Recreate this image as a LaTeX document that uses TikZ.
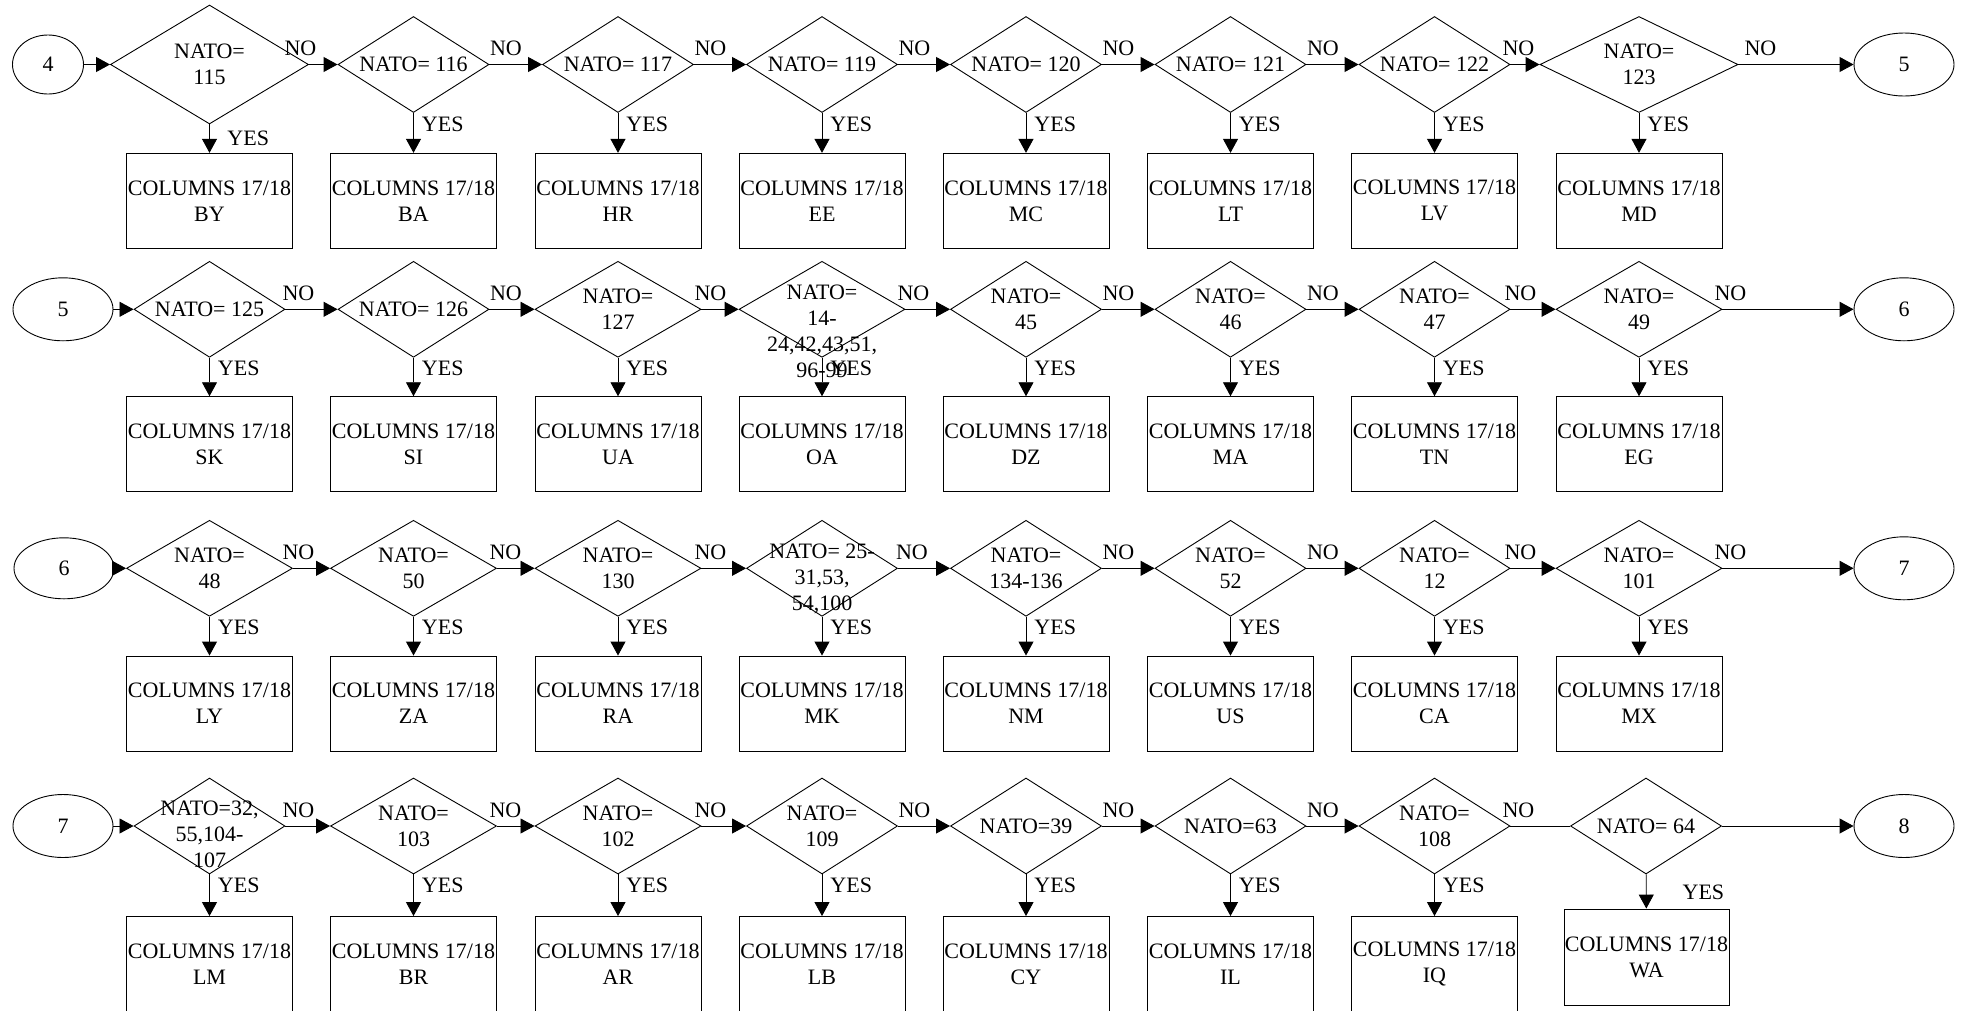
\documentclass[tikz,border=0pt]{standalone}
\usepackage{fontspec}
\setmainfont{Liberation Serif}
\usetikzlibrary{shapes.geometric,arrows.meta}

\tikzset{
  dec/.style={diamond,draw,inner sep=0pt,minimum width=151pt,minimum height=96pt},
  dwide/.style={minimum width=166pt},
  nato/.style={label={[align=center]center:#1}},
  res/.style={draw,rectangle,align=center,inner sep=0pt,minimum width=166pt,minimum height=95pt},
  term/.style={ellipse,draw,inner sep=0pt,minimum width=100pt,minimum height=63pt},
  no/.style={at start,anchor=south,inner sep=0pt,yshift=8pt,xshift=#1},
  no/.default=16.5pt,
  yes/.style={at start,anchor=west,inner sep=0pt,xshift=8pt,yshift=-11pt}
}

\begin{document}
\begin{tikzpicture}[x=1pt,y=-1pt,>={Triangle[length=14pt,width=15pt]},line width=0.9pt,
  font=\fontsize{22}{26}\selectfont]
  \useasboundingbox[fill=white] (0,0) rectangle (1966,1010);

  % row 1
  \node[term,minimum width=71pt,minimum height=59pt] (e4) at (48,64.5) {4};
  \node[dec,minimum width=198pt,minimum height=119pt,nato={NATO=\\115}] (d11) at (209.5,64.5) {};
  \node[dec,nato={NATO= 116}] (d12) at (413.5,64.5) {};
  \node[dec,nato={NATO= 117}] (d13) at (618,64.5) {};
  \node[dec,nato={NATO= 119}] (d14) at (822,64.5) {};
  \node[dec,nato={NATO= 120}] (d15) at (1026,64.5) {};
  \node[dec,nato={NATO= 121}] (d16) at (1230.5,64.5) {};
  \node[dec,nato={NATO= 122}] (d17) at (1434.5,64.5) {};
  \node[dec,minimum width=198pt,nato={NATO=\\123}] (d18) at (1639,64.5) {};
  \node[term] (e5a) at (1904,64.5) {5};
  \node[res] (r11) at (209.5,200.8) {COLUMNS 17/18\\BY};
  \node[res] (r12) at (413.5,200.8) {COLUMNS 17/18\\BA};
  \node[res] (r13) at (618,200.8) {COLUMNS 17/18\\HR};
  \node[res] (r14) at (822,200.8) {COLUMNS 17/18\\EE};
  \node[res] (r15) at (1026,200.8) {COLUMNS 17/18\\MC};
  \node[res] (r16) at (1230.5,200.8) {COLUMNS 17/18\\LT};
  \node[res] (r17) at (1434.5,200.8) {COLUMNS 17/18\\LV};
  \node[res] (r18) at (1639,200.8) {COLUMNS 17/18\\MD};
  \draw[->] (e4) -- (d11);
  \draw[->] (d11) -- node[no=-8.5pt] {NO} (d12);
  \draw[->] (d12) -- node[no] {NO} (d13);
  \draw[->] (d13) -- node[no] {NO} (d14);
  \draw[->] (d14) -- node[no] {NO} (d15);
  \draw[->] (d15) -- node[no] {NO} (d16);
  \draw[->] (d16) -- node[no] {NO} (d17);
  \draw[->] (d17) -- node[no=8pt] {NO} (d18);
  \draw[->] (d18) -- node[no=22pt] {NO} (e5a);
  \draw[->] (d11) -- node[yes,xshift=9.5pt,yshift=-3pt] {YES} (r11);
  \draw[->] (d12) -- node[yes] {YES} (r12);
  \draw[->] (d13) -- node[yes] {YES} (r13);
  \draw[->] (d14) -- node[yes] {YES} (r14);
  \draw[->] (d15) -- node[yes] {YES} (r15);
  \draw[->] (d16) -- node[yes] {YES} (r16);
  \draw[->] (d17) -- node[yes] {YES} (r17);
  \draw[->] (d18) -- node[yes] {YES} (r18);

  % row 2
  \node[term] (e5) at (63,309.3) {5};
  \node[dec,nato={NATO= 125}] (d21) at (209.5,309.3) {};
  \node[dec,nato={NATO= 126}] (d22) at (413.5,309.3) {};
  \node[dec,dwide,nato={NATO=\\127}] (d23) at (618,309.3) {};
  \node[dec,dwide,label={[align=center,yshift=-22pt]center:{NATO=\\14-\\24,42,43,51,\\96-99}}] (d24) at (822,309.3) {};
  \node[dec,nato={NATO=\\45}] (d25) at (1026,309.3) {};
  \node[dec,nato={NATO=\\46}] (d26) at (1230.5,309.3) {};
  \node[dec,nato={NATO=\\47}] (d27) at (1434.5,309.3) {};
  \node[dec,dwide,nato={NATO=\\49}] (d28) at (1639,309.3) {};
  \node[term] (e6a) at (1904,309.3) {6};
  \node[res] (r21) at (209.5,444.2) {COLUMNS 17/18\\SK};
  \node[res] (r22) at (413.5,444.2) {COLUMNS 17/18\\SI};
  \node[res] (r23) at (618,444.2) {COLUMNS 17/18\\UA};
  \node[res] (r24) at (822,444.2) {COLUMNS 17/18\\OA};
  \node[res] (r25) at (1026,444.2) {COLUMNS 17/18\\DZ};
  \node[res] (r26) at (1230.5,444.2) {COLUMNS 17/18\\MA};
  \node[res] (r27) at (1434.5,444.2) {COLUMNS 17/18\\TN};
  \node[res] (r28) at (1639,444.2) {COLUMNS 17/18\\EG};
  \draw[->] (e5) -- (d21);
  \draw[->] (d21) -- node[no=13pt] {NO} (d22);
  \draw[->] (d22) -- node[no] {NO} (d23);
  \draw[->] (d23) -- node[no=9pt] {NO} (d24);
  \draw[->] (d24) -- node[no=8pt] {NO} (d25);
  \draw[->] (d25) -- node[no] {NO} (d26);
  \draw[->] (d26) -- node[no] {NO} (d27);
  \draw[->] (d27) -- node[no=10pt] {NO} (d28);
  \draw[->] (d28) -- node[no=8pt] {NO} (e6a);
  \draw[->] (d21) -- node[yes] {YES} (r21);
  \draw[->] (d22) -- node[yes] {YES} (r22);
  \draw[->] (d23) -- node[yes] {YES} (r23);
  \draw[->] (d24) -- node[yes] {YES} (r24);
  \draw[->] (d25) -- node[yes] {YES} (r25);
  \draw[->] (d26) -- node[yes] {YES} (r26);
  \draw[->] (d27) -- node[yes] {YES} (r27);
  \draw[->] (d28) -- node[yes] {YES} (r28);

  % row 3
  \node[term,minimum height=61pt] (e6) at (64,568.3) {6};
  \node[dec,dwide,nato={NATO=\\48}] (d31) at (209.5,568.3) {};
  \node[dec,dwide,nato={NATO=\\50}] (d32) at (413.5,568.3) {};
  \node[dec,dwide,nato={NATO=\\130}] (d33) at (618,568.3) {};
  \node[dec,label={[align=center,yshift=-11pt]center:{NATO= 25-\\31,53,\\54,100}}] (d34) at (822,568.3) {};
  \node[dec,nato={NATO=\\134-136}] (d35) at (1026,568.3) {};
  \node[dec,nato={NATO=\\52}] (d36) at (1230.5,568.3) {};
  \node[dec,nato={NATO=\\12}] (d37) at (1434.5,568.3) {};
  \node[dec,dwide,nato={NATO=\\101}] (d38) at (1639,568.3) {};
  \node[term] (e7a) at (1904,568.3) {7};
  \node[res] (r31) at (209.5,703.5) {COLUMNS 17/18\\LY};
  \node[res] (r32) at (413.5,703.5) {COLUMNS 17/18\\ZA};
  \node[res] (r33) at (618,703.5) {COLUMNS 17/18\\RA};
  \node[res] (r34) at (822,703.5) {COLUMNS 17/18\\MK};
  \node[res] (r35) at (1026,703.5) {COLUMNS 17/18\\NM};
  \node[res] (r36) at (1230.5,703.5) {COLUMNS 17/18\\US};
  \node[res] (r37) at (1434.5,703.5) {COLUMNS 17/18\\CA};
  \node[res] (r38) at (1639,703.5) {COLUMNS 17/18\\MX};
  \draw[->] (e6) -- (d31);
  \draw[->] (d31) -- node[no=5.5pt] {NO} (d32);
  \draw[->] (d32) -- node[no=8.5pt] {NO} (d33);
  \draw[->] (d33) -- node[no=9pt] {NO} (d34);
  \draw[->] (d34) -- node[no=14pt] {NO} (d35);
  \draw[->] (d35) -- node[no] {NO} (d36);
  \draw[->] (d36) -- node[no] {NO} (d37);
  \draw[->] (d37) -- node[no=10pt] {NO} (d38);
  \draw[->] (d38) -- node[no=8pt] {NO} (e7a);
  \draw[->] (d31) -- node[yes] {YES} (r31);
  \draw[->] (d32) -- node[yes] {YES} (r32);
  \draw[->] (d33) -- node[yes] {YES} (r33);
  \draw[->] (d34) -- node[yes] {YES} (r34);
  \draw[->] (d35) -- node[yes] {YES} (r35);
  \draw[->] (d36) -- node[yes] {YES} (r36);
  \draw[->] (d37) -- node[yes] {YES} (r37);
  \draw[->] (d38) -- node[yes] {YES} (r38);

  % row 4
  \node[term] (e7) at (63,826) {7};
  \node[dec,label={[align=center,yshift=-8pt]center:{NATO=32,\\55,104-\\107}}] (d41) at (209.5,826) {};
  \node[dec,dwide,nato={NATO=\\103}] (d42) at (413.5,826) {};
  \node[dec,dwide,nato={NATO=\\102}] (d43) at (618,826) {};
  \node[dec,nato={NATO=\\109}] (d44) at (822,826) {};
  \node[dec,nato={NATO=39}] (d45) at (1026,826) {};
  \node[dec,nato={NATO=63}] (d46) at (1230.5,826) {};
  \node[dec,nato={NATO=\\108}] (d47) at (1434.5,826) {};
  \node[dec,nato={NATO= 64}] (d48) at (1646,826) {};
  \node[term] (e8) at (1904,826) {8};
  \node[res] (r41) at (209.5,964) {COLUMNS 17/18\\LM};
  \node[res] (r42) at (413.5,964) {COLUMNS 17/18\\BR};
  \node[res] (r43) at (618,964) {COLUMNS 17/18\\AR};
  \node[res] (r44) at (822,964) {COLUMNS 17/18\\LB};
  \node[res] (r45) at (1026,964) {COLUMNS 17/18\\CY};
  \node[res] (r46) at (1230.5,964) {COLUMNS 17/18\\IL};
  \node[res] (r47) at (1434.5,964) {COLUMNS 17/18\\IQ};
  \node[res,minimum width=165pt,minimum height=96pt] (r48) at (1646.5,957) {COLUMNS 17/18\\WA};
  \draw[->] (e7) -- (d41);
  \draw[->] (d41) -- node[no=13pt] {NO} (d42);
  \draw[->] (d42) -- node[no=8.5pt] {NO} (d43);
  \draw[->] (d43) -- node[no=9pt] {NO} (d44);
  \draw[->] (d44) -- node[no] {NO} (d45);
  \draw[->] (d45) -- node[no] {NO} (d46);
  \draw[->] (d46) -- node[no] {NO} (d47);
  \draw (d47) -- node[no=8pt] {NO} (d48);
  \draw[->] (d48) -- (e8);
  \draw[->] (d41) -- node[yes] {YES} (r41);
  \draw[->] (d42) -- node[yes] {YES} (r42);
  \draw[->] (d43) -- node[yes] {YES} (r43);
  \draw[->] (d44) -- node[yes] {YES} (r44);
  \draw[->] (d45) -- node[yes] {YES} (r45);
  \draw[->] (d46) -- node[yes] {YES} (r46);
  \draw[->] (d47) -- node[yes] {YES} (r47);
  \draw[->] (d48) -- node[yes,xshift=28pt,yshift=-7pt] {YES} (r48);
\end{tikzpicture}
\end{document}
